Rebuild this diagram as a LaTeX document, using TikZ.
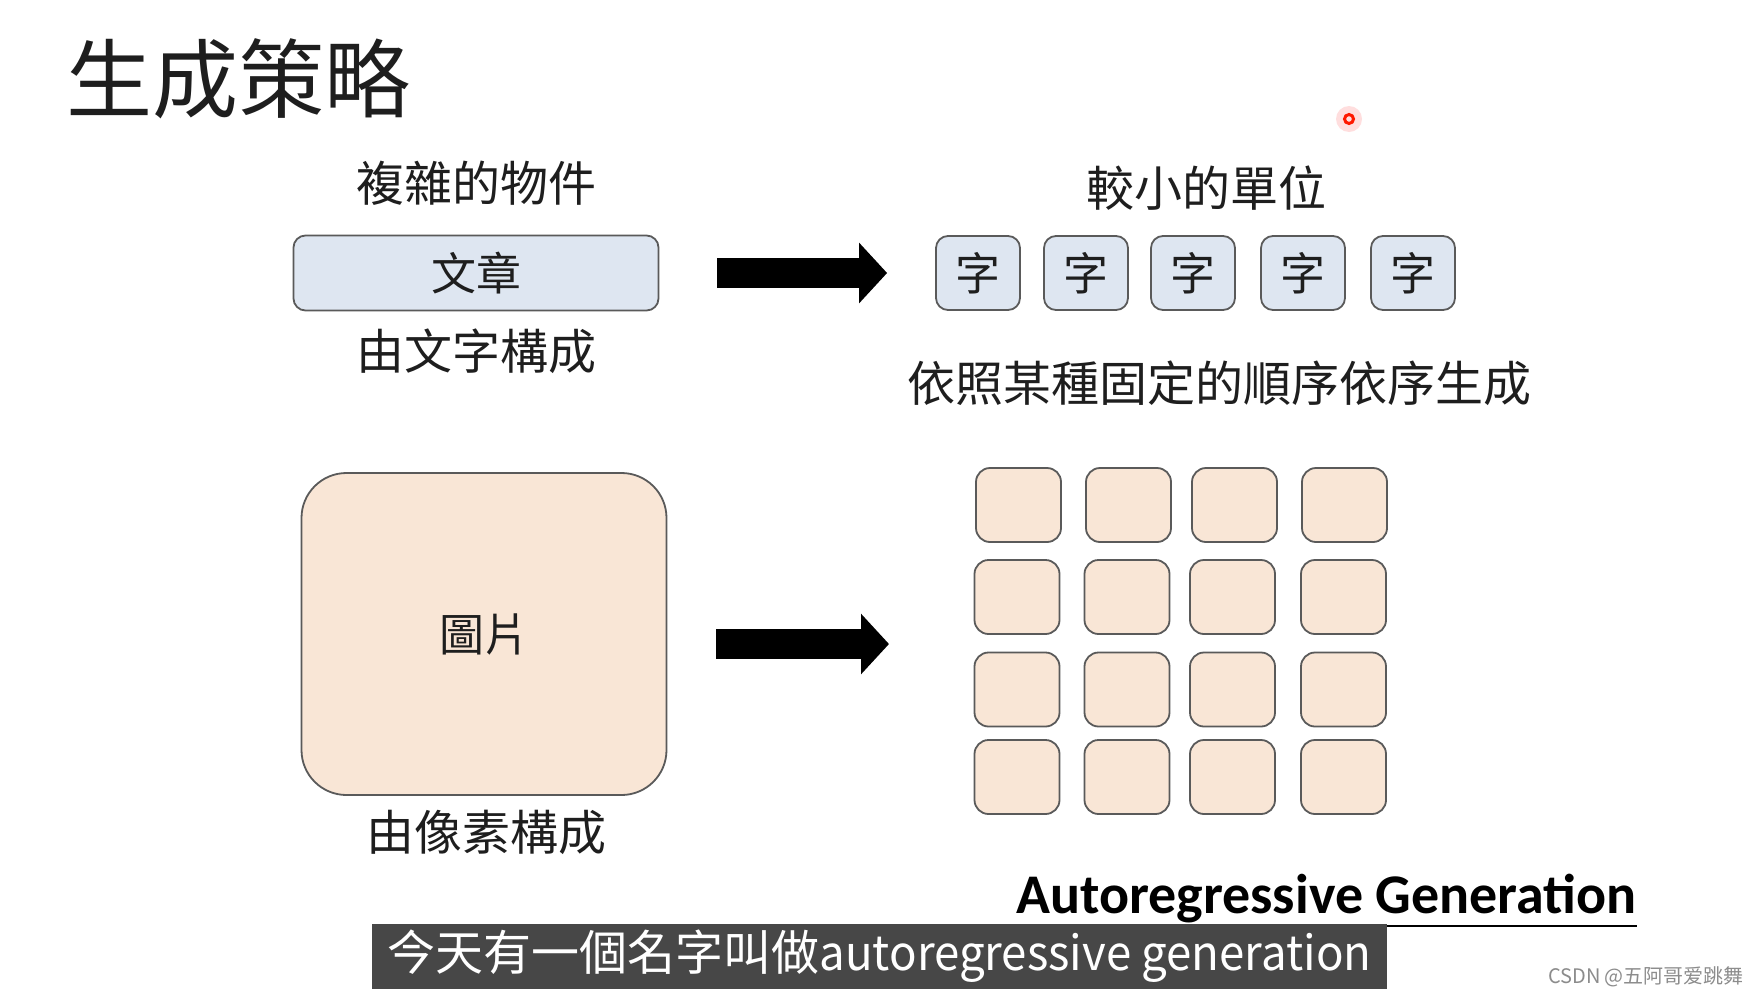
\documentclass[tikz,border=0pt]{standalone}
\usepackage{fontspec}
\setmainfont{Noto Sans CJK TC}
\newfontfamily\carlito{Carlito}
\newfontfamily\csdnfont{Noto Sans CJK SC}
\newfontfamily\subfont[FakeStretch=0.95]{Noto Sans CJK TC}
\usetikzlibrary{arrows.meta}
\definecolor{wordblue}{HTML}{DEE6F1}
\definecolor{pixpeach}{HTML}{F9E6D6}
\definecolor{edgegray}{HTML}{5A5A5A}
\definecolor{barbg}{HTML}{474747}
\definecolor{inkblack}{HTML}{1E1E1E}

\begin{document}
\begin{tikzpicture}[x=1pt,y=-1pt,headline/.style={inner sep=0pt,text=inkblack,font=\fontsize{86}{90}\selectfont},txt/.style={inner sep=0pt,text=inkblack,font=\fontsize{48}{50}\selectfont},wordbox/.style={draw=edgegray,fill=wordblue,line width=1.8pt,rounded corners=12pt,minimum width=84pt,minimum height=74pt,inner sep=0pt,text=inkblack,font=\fontsize{45}{48}\selectfont},pixbox/.style={draw=edgegray,fill=pixpeach,line width=1.8pt,rounded corners=14pt,minimum width=85pt,minimum height=74pt,inner sep=0pt,text=inkblack,font=\fontsize{45}{48}\selectfont},arrow/.style={-{Triangle[length=28pt,width=59pt]},line width=30pt,draw=black}]
\fill[white] (0,0) rectangle (1760,996);
\useasboundingbox (0,0) rectangle (1760,996);
\node[headline] (hd) at (238,79) {生成策略};
\fill[red!25,opacity=.5] (1349,119) circle (13pt);
\draw[red!80!orange,line width=3pt] (1349,119) circle (4.5pt);
\node[txt] (c0) at (476,183) {複雜的物件};
\node[wordbox,minimum width=365pt,minimum height=75pt] (n0) at (476,273) {文章};
\node[txt] (c1) at (476,351) {由文字構成};
\node[txt] (c2) at (1206,188) {較小的單位};
\node[wordbox] (t1) at (978,273) {字};
\node[wordbox] (t2) at (1086,273) {字};
\node[wordbox] (t3) at (1193,273) {字};
\node[wordbox] (t4) at (1303,273) {字};
\node[wordbox] (t5) at (1413,273) {字};
\node[txt] (c3) at (1219,383) {依照某種固定的順序依序生成};
\draw[arrow,shorten <=58pt,shorten >=48pt] (n0.east) -- (t1.west);
\node[pixbox,minimum width=365pt,minimum height=322pt,rounded corners=45pt] (img) at (484,634) {圖片};
\node[txt] (c4) at (486,832) {由像素構成};
\node[pixbox] (g11) at (1018.5,505) {};
\node[pixbox] (g12) at (1128.5,505) {};
\node[pixbox] (g13) at (1234.5,505) {};
\node[pixbox] (g14) at (1344.5,505) {};
\node[pixbox] (g21) at (1017,597) {};
\node[pixbox] (g22) at (1127,597) {};
\node[pixbox] (g23) at (1232.5,597) {};
\node[pixbox] (g24) at (1343.5,597) {};
\node[pixbox] (g31) at (1017,689.5) {};
\node[pixbox] (g32) at (1127,689.5) {};
\node[pixbox] (g33) at (1232.5,689.5) {};
\node[pixbox] (g34) at (1343.5,689.5) {};
\node[pixbox] (g41) at (1017,777) {};
\node[pixbox] (g42) at (1127,777) {};
\node[pixbox] (g43) at (1232.5,777) {};
\node[pixbox] (g44) at (1343.5,777) {};
\coordinate (gw) at (975,644);
\draw[arrow,shorten <=49pt,shorten >=86pt] (img.east |- gw) -- (gw);
\node[inner sep=0pt,anchor=base west,text=black,font=\carlito\bfseries\fontsize{56}{60}\selectfont] (ag) at (1016,913) {Autoregressive Generation};
\draw[line width=2.5pt] ([yshift=-13pt]ag.base west) -- ([yshift=-13pt]ag.base east);
\node[fill=barbg,minimum width=1015pt,minimum height=65pt,inner sep=0pt,text=white,font=\fontsize{48}{50}\selectfont] (sub) at (879.5,956.5) {今天有一個名字叫做{\subfont autoregressive generation}};
\node[inner sep=0pt,text=black!45,font=\csdnfont\fontsize{20}{22}\selectfont] (wm) at (1646,977) {CSDN @五阿哥爱跳舞};
\end{tikzpicture}
\end{document}
